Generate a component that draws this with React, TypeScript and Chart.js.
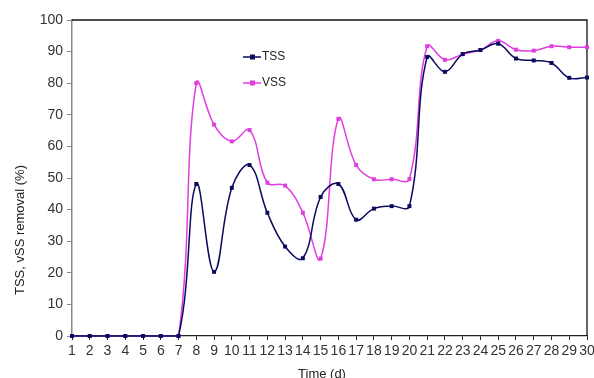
import React, { useEffect, useRef } from "react";
import { Chart, registerables } from "chart.js";

Chart.register(...registerables);

const days = [
  "1", "2", "3", "4", "5", "6", "7", "8", "9", "10",
  "11", "12", "13", "14", "15", "16", "17", "18", "19", "20",
  "21", "22", "23", "24", "25", "26", "27", "28", "29", "30",
];
const tss = [
  0, 0, 0, 0, 0, 0, 0, 48.1, 20.3, 46.9,
  54.1, 39.0, 28.3, 24.6, 44.0, 48.1, 36.8, 40.3, 41.1, 41.1,
  88.3, 83.6, 89.2, 90.5, 92.5, 87.8, 87.2, 86.4, 81.7, 81.8,
];
const vss = [
  0, 0, 0, 0, 0, 0, 0, 80.0, 66.9, 61.6,
  65.2, 48.5, 47.6, 39.0, 24.5, 68.7, 54.1, 49.6, 49.6, 49.7,
  91.7, 87.4, 89.2, 90.5, 93.4, 90.6, 90.3, 91.7, 91.4, 91.4,
];
const seriesNames = ["TSS", "VSS"];
const seriesColors = ["#0a0a5e", "#e03ce0"];
const yTitle = "TSS, vSS removal (%)";
const xTitle = "Time (d)";

const FONT = "'Liberation Sans', Arial, sans-serif";

const decor = {
  id: "decor",
  beforeDatasetsDraw(chart: any) {
    const { ctx, chartArea: a } = chart;
    ctx.save();
    ctx.strokeStyle = "#151515";
    ctx.lineWidth = 1.3;
    ctx.beginPath();
    ctx.moveTo(a.left, a.top);
    ctx.lineTo(a.right, a.top);
    ctx.lineTo(a.right, a.bottom);
    ctx.stroke();
    ctx.restore();
  },
  afterDraw(chart: any) {
    const { ctx, chartArea: a } = chart;
    ctx.save();
    // legend
    chart.data.datasets.forEach((ds: any, i: number) => {
      const y = a.top + 37 + i * 26;
      const x0 = a.left + 171;
      ctx.strokeStyle = ds.borderColor;
      ctx.lineWidth = 1.5;
      ctx.beginPath();
      ctx.moveTo(x0, y);
      ctx.lineTo(x0 + 18, y);
      ctx.stroke();
      ctx.fillStyle = ds.borderColor;
      ctx.fillRect(x0 + 7, y - 2.5, 5, 5);
      ctx.fillStyle = "#222";
      ctx.font = `12px ${FONT}`;
      ctx.textAlign = "left";
      ctx.textBaseline = "middle";
      ctx.fillText(ds.label, x0 + 19, y);
    });
    // axis titles
    ctx.fillStyle = "#222";
    ctx.font = `13px ${FONT}`;
    ctx.textAlign = "center";
    ctx.textBaseline = "alphabetic";
    ctx.fillText(xTitle, 322, 377.5);
    ctx.translate(24, 230);
    ctx.rotate(-Math.PI / 2);
    ctx.fillText(yTitle, 0, 0);
    ctx.restore();
  },
};

export default function App() {
  const ref = useRef<HTMLCanvasElement | null>(null);
  useEffect(() => {
    if (!ref.current) return;
    const chart = new Chart(ref.current, {
      type: "line",
      data: {
        labels: days,
        datasets: [tss, vss].map((d, i) => ({
          label: seriesNames[i],
          data: d,
          borderColor: seriesColors[i],
          backgroundColor: seriesColors[i],
          borderWidth: 1.5,
          pointStyle: "rect",
          pointRadius: 2.8,
          pointBorderWidth: 0,
          tension: 0.4,
          clip: false as any,
        })),
      },
      options: {
        animation: false,
        responsive: false,
        layout: { padding: { top: 20, right: 7, left: 0, bottom: 0 } },
        plugins: { legend: { display: false }, tooltip: { enabled: false }, title: { display: false } },
        scales: {
          x: {
            type: "category",
            offset: false,
            grid: { display: true, drawOnChartArea: false, drawTicks: true, tickLength: 4, color: "#222" },
            border: { display: true, color: "#222", width: 1.3 },
            ticks: {
              autoSkip: false,
              maxRotation: 0,
              minRotation: 0,
              padding: 3,
              color: "#333",
              font: { family: FONT, size: 14 },
            },
            afterFit: (s: any) => {
              s.height = 42;
              s.paddingLeft = 0;
              s.paddingRight = 0;
            },
          },
          y: {
            min: 0,
            max: 100,
            grid: { display: true, drawOnChartArea: false, drawTicks: true, tickLength: 5, color: "#888" },
            border: { display: true, color: "#888", width: 1.5 },
            ticks: {
              stepSize: 10,
              padding: 4,
              color: "#333",
              font: { family: FONT, size: 14 },
            },
            afterFit: (s: any) => {
              s.width = 72;
              s.paddingTop = 0;
              s.paddingBottom = 0;
            },
          },
        },
      },
      plugins: [decor],
    });
    return () => chart.destroy();
  }, []);
  return (
    <div style={{ position: "fixed", left: 0, top: 0, width: 594, height: 378, background: "#fff" }}>
      <canvas ref={ref} width={594} height={378} style={{ display: "block" }} />
    </div>
  );
}
